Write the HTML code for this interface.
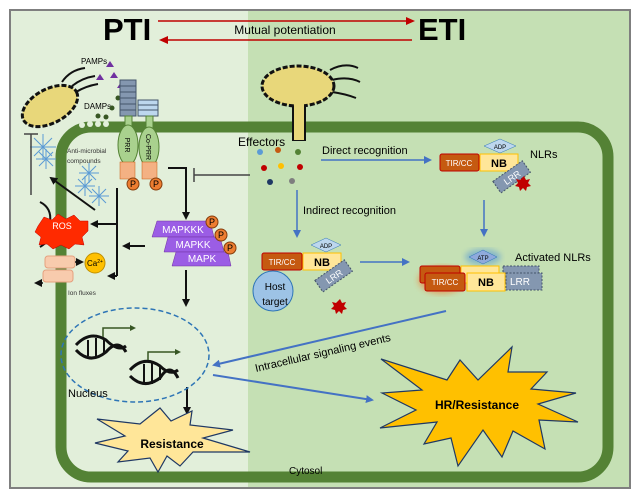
<!DOCTYPE html>
<html><head><meta charset="utf-8"><style>body{margin:0;background:#fff}svg{display:block}text{font-family:"Liberation Sans",sans-serif}</style></head><body>
<svg width="640" height="497" viewBox="0 0 640 497" xmlns="http://www.w3.org/2000/svg">
<defs>
<marker id="ab" markerWidth="8" markerHeight="8" refX="6" refY="4" orient="auto" markerUnits="userSpaceOnUse"><path d="M0,0L8,4L0,8z" fill="#111"/></marker>
<marker id="au" markerWidth="8" markerHeight="8" refX="6" refY="4" orient="auto" markerUnits="userSpaceOnUse"><path d="M0,0L8,4L0,8z" fill="#4472c4"/></marker>
<marker id="ar" markerWidth="9" markerHeight="8" refX="6" refY="4" orient="auto" markerUnits="userSpaceOnUse"><path d="M0,0L9,4L0,8z" fill="#c00000"/></marker>
<filter id="gl"><feGaussianBlur stdDeviation="3"/></filter>
</defs>
<rect x="10" y="10" width="620" height="248" fill="none"/>
<rect x="10" y="10" width="238" height="248" fill="#e2efda"/>
<rect x="10" y="10" width="238" height="248" fill="#e2efda"/>
<rect x="10" y="10" width="238" height="248" fill="#e2efda"/>
<rect x="10" y="10" width="238" height="248" fill="#e2efda"/>
<rect x="10" y="10" width="238" height="478" fill="#e2efda"/>
<rect x="248" y="10" width="382" height="478" fill="#c5e0b4"/>
<rect x="10" y="10" width="620" height="478" fill="none" stroke="#7f7f7f" stroke-width="2"/>
<!-- cell wall -->
<rect x="61" y="127" width="547" height="350" rx="30" fill="none" stroke="#548235" stroke-width="11"/>
<!-- header -->
<text x="103" y="40" font-size="31" font-weight="bold">PTI</text>
<text x="418" y="40" font-size="31" font-weight="bold">ETI</text>
<line x1="158" y1="21" x2="412" y2="21" stroke="#c00000" stroke-width="1.5" marker-end="url(#ar)"/>
<line x1="412" y1="40" x2="162" y2="40" stroke="#c00000" stroke-width="1.5" marker-end="url(#ar)"/>
<text x="285" y="34" font-size="12" text-anchor="middle">Mutual potentiation</text>
<!-- left bacterium -->
<g stroke="#111" stroke-width="2" fill="none">
<path d="M62,82 Q70,70 85,68 M72,86 Q82,78 95,76 M76,92 Q86,86 98,84"/>
</g>
<ellipse cx="50" cy="106" rx="30" ry="17" transform="rotate(-28 50 106)" fill="#e8d77a" stroke="#111" stroke-width="3" stroke-dasharray="5 2"/>
<text x="81" y="64" font-size="8">PAMPs</text>
<g fill="#7030a0"><path d="M106,67l4,-6l4,6z M96,80l4,-6l4,6z M110,78l4,-6l4,6z M117,88l4,-6l4,6z"/></g>
<text x="84" y="109" font-size="8">DAMPs</text>
<g fill="#375623"><circle cx="118" cy="98" r="2.5"/><circle cx="112" cy="108" r="2.5"/><circle cx="98" cy="116" r="2.5"/><circle cx="106" cy="117" r="2.5"/></g>
<g fill="#e2efda"><circle cx="82" cy="125" r="3"/><circle cx="90" cy="124" r="3"/><circle cx="98" cy="124" r="3"/><circle cx="106" cy="124" r="3"/></g>
<!-- PRR -->
<g stroke="#44546a" stroke-width="1">
<rect x="120" y="80" width="16" height="36" fill="#8497b0"/>
<line x1="120" y1="86" x2="136" y2="86"/><line x1="120" y1="92" x2="136" y2="92"/><line x1="120" y1="98" x2="136" y2="98"/><line x1="120" y1="104" x2="136" y2="104"/><line x1="120" y1="110" x2="136" y2="110"/>
<rect x="138" y="100" width="20" height="16" fill="#bdd7ee"/>
<line x1="138" y1="105" x2="158" y2="105"/><line x1="138" y1="110" x2="158" y2="110"/>
</g>
<rect x="125" y="116" width="7" height="12" fill="#a9d18e" stroke="#548235"/>
<rect x="146" y="116" width="7" height="12" fill="#a9d18e" stroke="#548235"/>
<ellipse cx="128" cy="145" rx="10" ry="20" fill="#a9d18e" stroke="#548235"/>
<ellipse cx="149" cy="147" rx="10" ry="20" fill="#a9d18e" stroke="#548235"/>
<text x="128" y="145" font-size="7" transform="rotate(90 128 145)" text-anchor="middle" dy="3">PRR</text>
<text x="149" y="147" font-size="7" transform="rotate(90 149 147)" text-anchor="middle" dy="3">Co-PRR</text>
<rect x="120" y="162" width="15" height="17" fill="#f4b183" stroke="#c55a11" stroke-width=".5"/>
<rect x="142" y="162" width="15" height="17" fill="#f4b183" stroke="#c55a11" stroke-width=".5"/>
<g font-size="9" text-anchor="middle"><circle cx="133" cy="184" r="6" fill="#ed7d31" stroke="#843c0c"/><text x="133" y="187">P</text><circle cx="156" cy="184" r="6" fill="#ed7d31" stroke="#843c0c"/><text x="156" y="187">P</text></g>
<text x="67" y="153" font-size="6.5" fill="#333">Anti-microbial</text>
<text x="67" y="163" font-size="6.5" fill="#333">compounds</text>
<g fill="none" stroke="#5b9bd5" stroke-width="1">
<path d="M34,138 l18,18 M52,138 l-18,18 M43,134 v26 M30,147 h26"/>
<path d="M39,152 l14,14 M53,152 l-14,14 M46,149 v20 M36,159 h20"/>
<path d="M82,166 l14,14 M96,166 l-14,14 M89,163 v20 M79,173 h20"/>
<path d="M78,179 l14,14 M92,179 l-14,14 M85,176 v20 M75,186 h20"/>
<path d="M92,189 l14,14 M106,189 l-14,14 M99,186 v20 M89,196 h20"/>
</g>
<!-- inhibition left -->
<line x1="31" y1="195" x2="31" y2="134" stroke="#444" stroke-width="1.5"/><line x1="24" y1="134" x2="38" y2="134" stroke="#444" stroke-width="1.5"/>
<line x1="95" y1="210" x2="51" y2="178" stroke="#111" stroke-width="2" marker-end="url(#ab)"/>
<path d="M40,202 Q52,208 50,222 M40,247 Q52,240 50,230" stroke="#111" stroke-width="2" fill="none"/>
<path d="M38,226 l6,-9 l8,3 l6,-6 l8,5 l8,-4 l6,6 l8,0 l0,10 l-6,6 l2,8 l-9,-1 l-6,5 l-8,-4 l-8,4 l-6,-5 l-8,1 l2,-8 l-6,-5z" fill="#ff2a00" stroke="#c00000" stroke-width=".5"/>
<text x="62" y="229" font-size="9" fill="#fff" text-anchor="middle">ROS</text>
<!-- ion channels -->
<rect x="45" y="256" width="30" height="12" rx="3" fill="#f8cbad" stroke="#e5a07e"/>
<rect x="43" y="270" width="30" height="12" rx="3" fill="#f8cbad" stroke="#e5a07e"/>
<line x1="75" y1="262" x2="82" y2="262" stroke="#111" stroke-width="1.5" marker-end="url(#ab)"/>
<line x1="43" y1="283" x2="36" y2="283" stroke="#111" stroke-width="1.5" marker-end="url(#ab)"/>
<circle cx="95" cy="263" r="10" fill="#ffc000" stroke="#bf9000"/>
<text x="95" y="266" font-size="8" text-anchor="middle">Ca<tspan font-size="5" dy="-3">2+</tspan></text>
<text x="68" y="295" font-size="6.5" fill="#333">Ion fluxes</text>
<!-- black flow arrows -->
<g stroke="#111" stroke-width="2" fill="none">
<line x1="117" y1="188" x2="117" y2="276"/>
<line x1="117" y1="224" x2="92" y2="224" marker-end="url(#ab)"/>
<line x1="117" y1="276" x2="109" y2="276" marker-end="url(#ab)"/>
<line x1="145" y1="246" x2="124" y2="246" marker-end="url(#ab)"/>
<path d="M168,168 H186 V218" marker-end="url(#ab)"/>
<line x1="186" y1="270" x2="186" y2="305" marker-end="url(#ab)"/>
<line x1="187" y1="387" x2="187" y2="413" marker-end="url(#ab)"/>
</g>
<line x1="250" y1="175" x2="194" y2="175" stroke="#444" stroke-width="1.5"/><line x1="194" y1="168" x2="194" y2="182" stroke="#444" stroke-width="1.5"/>
<!-- MAPK -->
<g fill="#9b5de5" stroke="#7030a0" stroke-width=".5">
<path d="M157,221 H210 L214,237 H152z"/>
<path d="M168,237 H220 L224,252 H164z"/>
<path d="M176,252 H228 L231,266 H172z"/>
</g>
<g fill="#fff" font-size="10" text-anchor="middle"><text x="183" y="233">MAPKKK</text><text x="193" y="248">MAPKK</text><text x="202" y="262">MAPK</text></g>
<g font-size="9" text-anchor="middle"><circle cx="212" cy="222" r="6" fill="#ed7d31" stroke="#843c0c"/><text x="212" y="225">P</text><circle cx="221" cy="235" r="6" fill="#ed7d31" stroke="#843c0c"/><text x="221" y="238">P</text><circle cx="230" cy="248" r="6" fill="#ed7d31" stroke="#843c0c"/><text x="230" y="251">P</text></g>
<!-- nucleus -->
<ellipse cx="135" cy="355" rx="74" ry="47" fill="none" stroke="#2e75b6" stroke-width="1.5" stroke-dasharray="5 3"/>
<g stroke="#111" stroke-width="3" fill="none">
<path d="M76,345 Q90,330 106,340 Q118,352 126,346 M76,350 Q90,365 106,352 Q118,338 126,352"/>
<path d="M130,370 Q144,355 160,366 Q170,376 178,370 M130,376 Q144,390 160,378 Q170,362 178,378"/>
</g>
<g stroke="#111" stroke-width="2"><line x1="88" y1="340" x2="88" y2="356"/><line x1="96" y1="338" x2="96" y2="358"/><line x1="104" y1="340" x2="104" y2="354"/><line x1="144" y1="364" x2="144" y2="382"/><line x1="152" y1="362" x2="152" y2="384"/><line x1="160" y1="366" x2="160" y2="380"/></g>
<g stroke="#375623" stroke-width="1.5" fill="none"><path d="M103,337 V328 H130" /><path d="M148,360 V352 H175"/></g>
<path d="M130,325 l6,3 l-6,3z M175,349 l6,3 l-6,3z" fill="#375623"/>
<text x="68" y="397" font-size="11">Nucleus</text>
<!-- Resistance star -->
<path d="M97,419 L140,424 L160,408 L171,421 L192,411 L190,425 L233,430 L203,438 L250,452 L193,452 L180,466 L167,456 L158,472 L150,458 L118,462 L128,451 L95,443 L125,436z" fill="#ffe699" stroke="#1f3864" stroke-width="1.2"/>
<text x="172" y="448" font-size="12" font-weight="bold" text-anchor="middle">Resistance</text>
<!-- right bacterium -->
<g stroke="#111" stroke-width="2" fill="none"><path d="M330,70 Q345,62 358,68 M332,80 Q348,76 360,82 M332,92 Q346,94 356,98"/></g>
<rect x="293" y="95" width="12" height="45" fill="#e8d77a" stroke="#111" stroke-width="2"/>
<ellipse cx="298" cy="86" rx="36" ry="20" fill="#e8d77a" stroke="#111" stroke-width="3" stroke-dasharray="5 2"/>
<rect x="294" y="96" width="10" height="44" fill="#e8d77a"/>
<text x="238" y="146" font-size="12">Effectors</text>
<g><circle cx="260" cy="152" r="3" fill="#5b9bd5"/><circle cx="278" cy="150" r="3" fill="#c55a11"/><circle cx="298" cy="152" r="3" fill="#548235"/><circle cx="281" cy="166" r="3" fill="#ffc000"/><circle cx="264" cy="168" r="3" fill="#c00000"/><circle cx="300" cy="167" r="3" fill="#c00000"/><circle cx="270" cy="182" r="3" fill="#1f3864"/><circle cx="292" cy="181" r="3" fill="#7f7f7f"/></g>
<!-- recognition -->
<line x1="321" y1="160" x2="430" y2="160" stroke="#4472c4" stroke-width="1.5" marker-end="url(#au)"/>
<text x="322" y="154" font-size="11">Direct recognition</text>
<line x1="297" y1="190" x2="297" y2="236" stroke="#4472c4" stroke-width="1.5" marker-end="url(#au)"/>
<text x="303" y="214" font-size="11">Indirect recognition</text>
<line x1="484" y1="200" x2="484" y2="235" stroke="#4472c4" stroke-width="1.5" marker-end="url(#au)"/>
<line x1="360" y1="262" x2="408" y2="262" stroke="#4472c4" stroke-width="1.5" marker-end="url(#au)"/>
<!-- NLR top -->
<path d="M484,146 l16,-7 l16,7 l-16,7z" fill="#bdd7ee" stroke="#2e75b6" stroke-width=".5"/><text x="500" y="149" font-size="6" text-anchor="middle">ADP</text>
<rect x="440" y="154" width="39" height="17" rx="2" fill="#c55a11" stroke="#c00000"/><text x="459" y="166" font-size="8" fill="#fff" text-anchor="middle">TIR/CC</text>
<rect x="480" y="154" width="38" height="17" fill="#ffe699" stroke="#ffc000"/><text x="499" y="167" font-size="11" font-weight="bold" text-anchor="middle">NB</text>
<g transform="rotate(-35 510 178)"><rect x="494" y="171" width="36" height="14" fill="#8497b0" stroke="#44546a" stroke-dasharray="2 1.5"/><text x="512" y="182" font-size="9" fill="#fff" text-anchor="middle">LRR</text></g>
<path d="M524,176 l2,4 4,-1 -2,4 3,3 -4,1 -1,4 -3,-3 -3,3 -1,-4 -4,-1 3,-3 -2,-4 4,1z" fill="#c00000"/>
<text x="530" y="158" font-size="11">NLRs</text>
<!-- NLR lower -->
<path d="M311,245 l15,-7 l15,7 l-15,7z" fill="#bdd7ee" stroke="#2e75b6" stroke-width=".5"/><text x="326" y="248" font-size="6" text-anchor="middle">ADP</text>
<circle cx="273" cy="291" r="20" fill="#9dc3e6" stroke="#2e75b6"/>
<text x="275" y="290" font-size="10" text-anchor="middle">Host</text><text x="275" y="305" font-size="10" text-anchor="middle">target</text>
<rect x="262" y="253" width="40" height="17" rx="2" fill="#c55a11" stroke="#c00000"/><text x="282" y="265" font-size="8" fill="#fff" text-anchor="middle">TIR/CC</text>
<rect x="303" y="253" width="38" height="17" fill="#ffe699" stroke="#ffc000"/><text x="322" y="266" font-size="11" font-weight="bold" text-anchor="middle">NB</text>
<g transform="rotate(-35 332 277)"><rect x="316" y="270" width="36" height="14" fill="#8497b0" stroke="#44546a" stroke-dasharray="2 1.5"/><text x="334" y="281" font-size="9" fill="#fff" text-anchor="middle">LRR</text></g>
<path d="M340,299 l2,4 4,-1 -2,4 3,3 -4,1 -1,4 -3,-3 -3,3 -1,-4 -4,-1 3,-3 -2,-4 4,1z" fill="#c00000"/>
<!-- Activated NLRs -->
<ellipse cx="442" cy="280" rx="24" ry="14" fill="#ed7d31" opacity=".6" filter="url(#gl)"/>
<ellipse cx="483" cy="257" rx="18" ry="8" fill="#5b9bd5" opacity=".6" filter="url(#gl)"/>
<path d="M469,257 l14,-7 l14,7 l-14,7z" fill="#8faadc" stroke="#2e75b6" stroke-width=".5"/><text x="483" y="260" font-size="6" text-anchor="middle">ATP</text>
<rect x="420" y="266" width="40" height="17" rx="2" fill="#c55a11" stroke="#c00000"/>
<rect x="461" y="266" width="38" height="17" fill="#ffe699" stroke="#ffc000"/>
<rect x="503" y="266" width="36" height="16" fill="#8497b0" stroke="#44546a" stroke-dasharray="2 1.5"/>
<rect x="425" y="273" width="40" height="18" rx="2" fill="#c55a11" stroke="#c00000"/><text x="445" y="285" font-size="8" fill="#fff" text-anchor="middle">TIR/CC</text>
<rect x="467" y="273" width="38" height="18" fill="#ffe699" stroke="#ffc000"/><text x="486" y="286" font-size="11" font-weight="bold" text-anchor="middle">NB</text>
<rect x="506" y="273" width="36" height="17" fill="#8497b0" stroke="#44546a" stroke-dasharray="2 1.5"/><text x="520" y="285" font-size="10" fill="#fff" text-anchor="middle">LRR</text>
<text x="515" y="261" font-size="11">Activated NLRs</text>
<!-- intracellular -->
<line x1="446" y1="311" x2="214" y2="365" stroke="#4472c4" stroke-width="2" marker-end="url(#au)"/>
<text x="256" y="372" font-size="11" transform="rotate(-13 256 372)">Intracellular signaling events</text>
<line x1="213" y1="375" x2="372" y2="400" stroke="#4472c4" stroke-width="2" marker-end="url(#au)"/>
<!-- HR star -->
<path d="M381,359 L447,380 L460,360 L478,380 L512,347 L508,372 L547,372 L531,389 L576,393 L538,404 L578,422 L539,420 L545,449 L513,431 L502,457 L483,430 L458,466 L451,438 L424,444 L437,422 L380,428 L416,410 L382,393 L422,390z" fill="#ffc000" stroke="#1f3864" stroke-width="1.2"/>
<text x="477" y="409" font-size="12" font-weight="bold" text-anchor="middle">HR/Resistance</text>
<text x="289" y="474" font-size="10">Cytosol</text>
</svg>
</body></html>
